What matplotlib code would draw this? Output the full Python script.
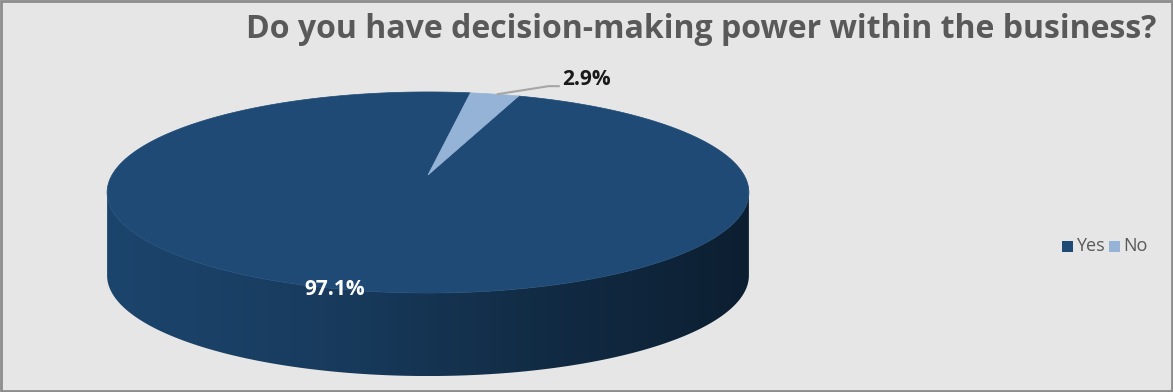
import numpy as np
import matplotlib
matplotlib.use("Agg")
from matplotlib import pyplot as plt
from matplotlib.patches import Polygon, Rectangle

labels = ["Yes", "No"]
values = [97.1, 2.9]
colors = ["#1E4A75", "#95B3D7"]
title = "Do you have decision-making power within the business?"

# geometria "3D" tortu (piksele)
CX, CY = 428, 175
A, B, K = 316, 97.5, 0.174
DEPTH = 83
START = 19.5  # kąt startu pierwszego wycinka (od godz. 12, zgodnie z zegarem)

def proj(theta, r=1.0):
    t = np.radians(theta)
    X = r * np.sin(t)
    Z = r * np.cos(t)
    s = 1 + K * Z
    return CX + A * X / s, CY - B * Z / s

fig = plt.figure(figsize=(11.73, 3.92), dpi=100)
fig.patch.set_facecolor("#E6E6E6")
ax = fig.add_axes([0, 0, 1, 1])
ax.set_xlim(0, 1173)
ax.set_ylim(392, 0)
ax.axis("off")

# ramka
ax.add_patch(Rectangle((1, 1), 1171, 390, fill=False, edgecolor="#8C8C8C", lw=2))

total = sum(values)
angles = [START]
for v in values:
    angles.append(angles[-1] + v / total * 360)

# boczna ściana (widoczny przód: 100..260 stopni)
for i in range(len(values)):
    a0, a1 = angles[i], angles[i + 1]
    for off in (0, 360, -360):
        lo, hi = max(a0 + off, 100), min(a1 + off, 260)
        if hi <= lo:
            continue
        th = np.linspace(lo, hi, 200)
        xs, ys = proj(th)
        pts = np.column_stack([np.r_[xs, xs[::-1]], np.r_[ys, ys[::-1] + DEPTH]])
        side = Polygon(pts, closed=True, facecolor="none", edgecolor="none")
        ax.add_patch(side)
        base = np.array(matplotlib.colors.to_rgb(colors[i]))
        gx = np.linspace(0, 1, 300)
        shade = np.interp(gx, [0, 0.35, 0.65, 1], [0.93, 0.8, 0.6, 0.42])
        img = (base[None, :] * shade[:, None])[None, :, :]
        im = ax.imshow(img, extent=[xs.min(), xs.max(), ys.max() + DEPTH, ys.min()],
                       aspect="auto", zorder=1, interpolation="bilinear")
        im.set_clip_path(side)

# górna powierzchnia
for i in range(len(values)):
    th = np.linspace(angles[i], angles[i + 1], 300)
    xs, ys = proj(th)
    pts = np.column_stack([np.r_[CX, xs], np.r_[CY, ys]])
    ax.add_patch(Polygon(pts, closed=True, facecolor=colors[i], edgecolor=colors[i],
                         lw=0.5, zorder=2))

# etykiety procentowe
mid0 = (angles[0] + angles[1]) / 2
x0, y0 = proj(mid0)
ax.text(x0, y0 + 1, f"{values[0]:.1f}%", color="white", fontsize=15, fontweight="bold",
        ha="center", va="center", zorder=5, family="Open Sans")

mid1 = (angles[1] + angles[2]) / 2
x1, y1 = proj(mid1)
ax.plot([x1 + 3, x1 + 54, x1 + 64], [y1, y1 - 8, y1 - 8], color="#A6A6A6", lw=1.5, zorder=4)
ax.text(x1 + 67, y1 - 15, f"{values[1]:.1f}%", color="#1A1A1A", fontsize=15,
        fontweight="bold", ha="left", va="center", zorder=5, family="Open Sans")

ax.text(701, 29, title, color="#595959", fontsize=23, fontweight="bold",
        ha="center", va="center", family="Open Sans")

# legenda
lx, ly = 1062, 246
for i, lab in enumerate(labels):
    ax.add_patch(Rectangle((lx, ly - 5), 11, 11, facecolor=colors[i], edgecolor="none"))
    ax.text(lx + 14, ly, lab, color="#595959", fontsize=13, ha="left", va="center",
            family="Open Sans")
    lx += 47

fig.savefig("out.png", dpi=100, facecolor=fig.get_facecolor())
